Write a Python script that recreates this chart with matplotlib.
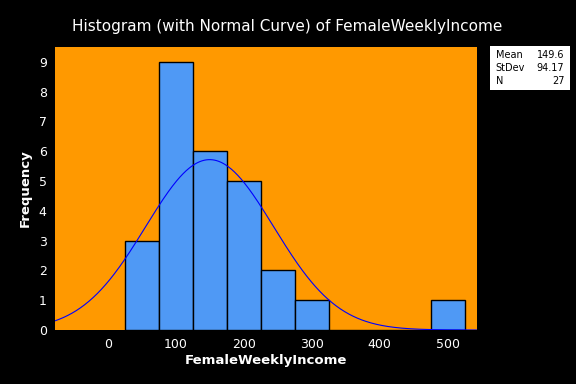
import numpy as np
import matplotlib.pyplot as plt

# bin midpoints and counts
bin_mids = [50, 100, 150, 200, 250, 300, 350, 400, 450, 500]
counts = [3, 9, 6, 5, 2, 1, 0, 0, 0, 1]
bin_width = 50

mean_val = 149.6
sd_val = 94.17
n_obs = 27

fig = plt.figure(figsize=(5.76, 3.84), dpi=100, facecolor='black')
ax = fig.add_axes([0.0955, 0.1406, 0.7325, 0.737])
ax.set_facecolor('#FF9900')

ax.bar(bin_mids, counts, width=bin_width, color='#4F99F5', edgecolor='black', linewidth=1)

# normal curve scaled to the counts
xs = np.linspace(-78, 543, 400)
ys = n_obs * bin_width / (sd_val * np.sqrt(2 * np.pi)) * np.exp(-0.5 * ((xs - mean_val) / sd_val) ** 2)
ax.plot(xs, ys, color='#0000FF', linewidth=0.8)

ax.set_xlim(-78, 543)
ax.set_ylim(0, 9.5)
ax.set_xticks([0, 100, 200, 300, 400, 500])
ax.set_yticks(range(10))
ax.tick_params(colors='white', labelsize=9, length=0, pad=6)
for s in ax.spines.values():
    s.set_visible(False)

ax.set_xlabel('FemaleWeeklyIncome', color='white', fontsize=9.5, fontweight='bold', labelpad=2)
ax.set_ylabel('Frequency', color='white', fontsize=9.5, fontweight='bold', labelpad=5)
fig.text(0.498, 0.932, 'Histogram (with Normal Curve) of FemaleWeeklyIncome',
         color='white', fontsize=11, ha='center', va='center')

# stats box
box = fig.add_axes([490 / 576, 1 - 90 / 384, 80 / 576, 44 / 384])
box.set_facecolor('white')
box.set_xticks([])
box.set_yticks([])
for s in box.spines.values():
    s.set_visible(False)
stats = [('Mean', f'{mean_val}'), ('StDev', f'{sd_val}'), ('N', f'{n_obs}')]
for i, (k, v) in enumerate(stats):
    yy = 0.8 - i * 0.3
    box.text(0.07, yy, k, fontsize=7, va='center', ha='left', transform=box.transAxes)
    box.text(0.93, yy, v, fontsize=7, va='center', ha='right', transform=box.transAxes)

plt.savefig('out.png', dpi=100, facecolor='black')
